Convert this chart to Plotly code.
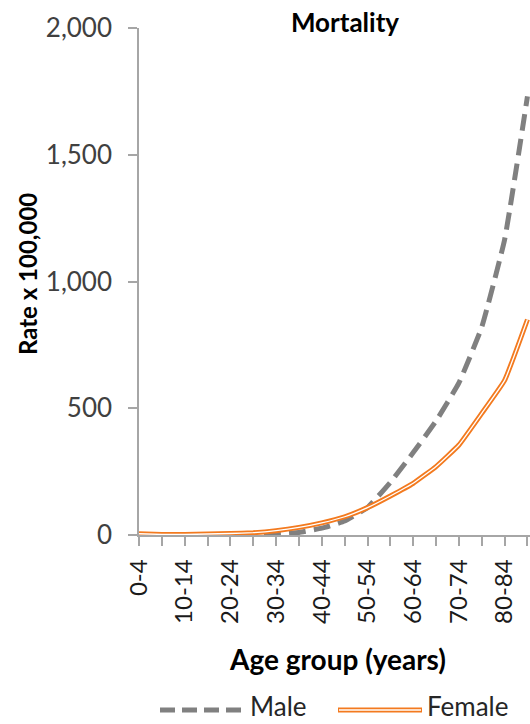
import plotly.graph_objects as go

# ---- data ----
categories = ["0-4", "5-9", "10-14", "15-19", "20-24", "25-29", "30-34", "35-39",
              "40-44", "45-49", "50-54", "55-59", "60-64", "65-69", "70-74",
              "75-79", "80-84", "85+"]
tick_labels = ["0-4", "", "10-14", "", "20-24", "", "30-34", "", "40-44", "",
               "50-54", "", "60-64", "", "70-74", "", "80-84", ""]
male = [2, 1, 1, 1, 2, 2, 4, 10, 27, 55, 108, 208, 325, 450, 600, 820, 1165, 1730]
female = [5, 2, 2, 4, 6, 9, 17, 30, 48, 72, 108, 154, 204, 270, 355, 480, 610, 850]
y_ticks = [0, 500, 1000, 1500, 2000]

# ---- layout geometry (pixels) ----
W, H = 530, 724
L, R, T, B = 139, 530, 28, 535


def px2x(px):
    return (px - L) / (R - L)


def py2y(py):
    return (B - py) / (B - T)


GRAY = "#808080"
ORANGE = "#F37A1F"
AXIS = "#A6A6A6"
FONT = "Lato"

fig = go.Figure()

fig.add_trace(go.Scatter(
    x=categories, y=male, mode="lines", name="Male",
    line=dict(color=GRAY, width=5, dash="17px,8px", shape="spline", smoothing=0.35),
    showlegend=False, hoverinfo="skip"))
fig.add_trace(go.Scatter(
    x=categories, y=female, mode="lines", name="Female",
    line=dict(color=ORANGE, width=5, shape="spline", smoothing=0.35),
    showlegend=False, hoverinfo="skip"))
fig.add_trace(go.Scatter(
    x=categories, y=female, mode="lines", name="Female inner",
    line=dict(color="white", width=1.3, shape="spline", smoothing=0.35),
    showlegend=False, hoverinfo="skip"))

# custom legend (long line samples like the original)
ly = 710
fig.add_shape(type="line", xref="paper", yref="paper",
              x0=px2x(160), x1=px2x(243), y0=py2y(ly), y1=py2y(ly),
              line=dict(color=GRAY, width=5, dash="15px,7px"))
fig.add_shape(type="line", xref="paper", yref="paper",
              x0=px2x(338), x1=px2x(422), y0=py2y(ly), y1=py2y(ly),
              line=dict(color=ORANGE, width=5))
fig.add_shape(type="line", xref="paper", yref="paper",
              x0=px2x(339), x1=px2x(421), y0=py2y(ly), y1=py2y(ly),
              line=dict(color="white", width=1.3))

annotations = [
    dict(text="<b>Rate x 100,000</b>", x=px2x(27), y=py2y(274), textangle=-90,
         xanchor="center", yanchor="middle", font=dict(size=24, color="black", family=FONT)),
    dict(text="<b>Age group (years)</b>", x=px2x(337), y=py2y(659),
         xanchor="center", yanchor="middle", font=dict(size=28, color="black", family=FONT)),
    dict(text="Male", x=px2x(248), y=py2y(706), xanchor="left", yanchor="middle",
         font=dict(size=26, color="#262626", family=FONT)),
    dict(text="Female", x=px2x(425), y=py2y(706), xanchor="left", yanchor="middle",
         font=dict(size=26, color="#262626", family=FONT)),
]
for a in annotations:
    a.update(xref="paper", yref="paper", showarrow=False)

fig.update_layout(
    width=W, height=H,
    margin=dict(l=L, r=W - R, t=T, b=H - B, pad=0),
    paper_bgcolor="white", plot_bgcolor="white",
    font=dict(family=FONT, color="#404040"),
    title=dict(text="<b>Mortality</b>", x=345 / W, xref="container", xanchor="center",
               y=1 - 23 / H, yref="container", yanchor="middle",
               font=dict(size=26, color="black", family=FONT)),
    annotations=annotations,
    showlegend=False,
)

fig.update_xaxes(
    type="category", categoryorder="array", categoryarray=categories,
    range=[0, (R - L) / 22.85],
    tickmode="array", tickvals=categories, ticktext=tick_labels,
    tickangle=-90, tickfont=dict(size=24, color="#1a1a1a", family=FONT),
    ticks="outside", ticklen=9, tickcolor=AXIS, tickwidth=1.5,
    showline=True, linecolor=AXIS, linewidth=1.5,
    showgrid=False, zeroline=False, ticklabelstandoff=4,
)
fig.update_yaxes(
    range=[0, 2000], tickmode="array", tickvals=y_ticks, tickformat=",d",
    tickfont=dict(size=26, color="#404040", family=FONT),
    ticks="outside", ticklen=9, tickcolor=AXIS, tickwidth=1.5,
    showline=True, linecolor=AXIS, linewidth=1.5,
    showgrid=False, zeroline=False, ticklabelstandoff=11,
)

fig.write_html("out.html")
